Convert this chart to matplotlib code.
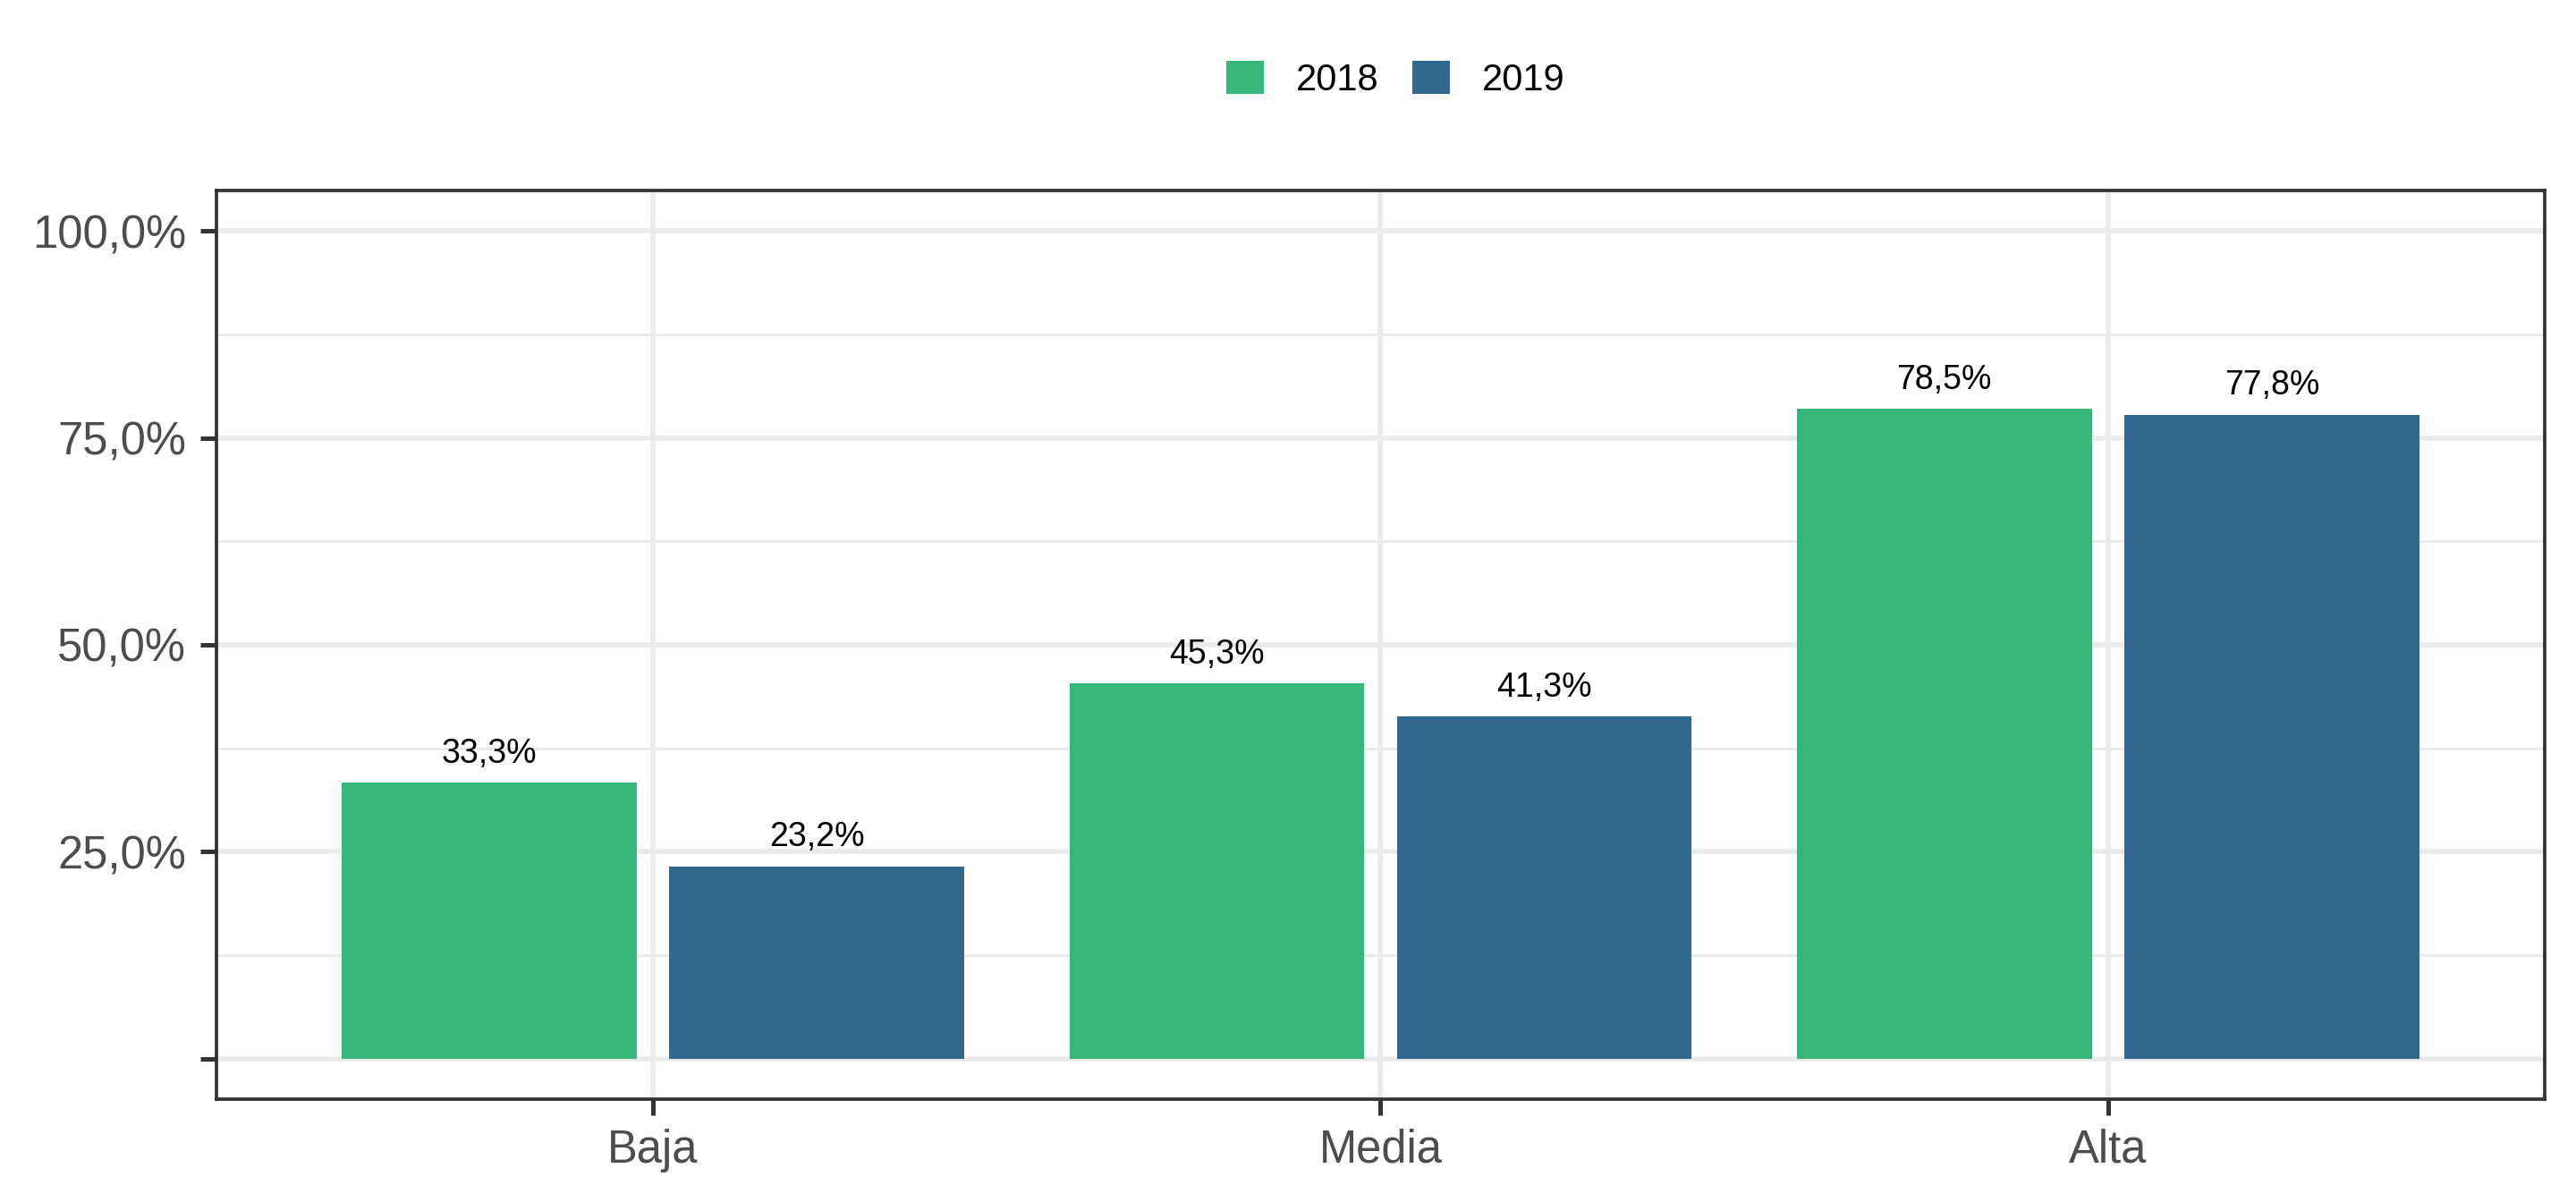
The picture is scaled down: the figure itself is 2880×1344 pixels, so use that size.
import numpy as np
import matplotlib
matplotlib.use("Agg")
import matplotlib.pyplot as plt
from matplotlib.ticker import FixedLocator, FixedFormatter

plt.rcParams['font.family'] = ['Liberation Sans', 'DejaVu Sans']

categories = ["Baja", "Media", "Alta"]
years = ["2018", "2019"]
vals_2018 = [33.3, 45.3, 78.5]
vals_2019 = [23.2, 41.3, 77.8]
colors = ["#35B779", "#31688E"]

ytick_vals = [0, 25, 50, 75, 100]
ytick_labels = ["", "25,0%", "50,0%", "75,0%", "100,0%"]

fig = plt.figure(figsize=(9.6, 4.48), dpi=300)
# panel: left 242px, right 2845px, top 213px, bottom 1229px
ax = fig.add_axes([0.0840, 0.0856, 0.9038, 0.7560])

x = np.arange(len(categories))
width = 0.405
offsets = [-0.225, 0.225]
series = [vals_2018, vals_2019]

for off, vals, col, yr in zip(offsets, series, colors, years):
    bars = ax.bar(x + off, vals, width=width, color=col, label=yr, zorder=3)
    for b, v in zip(bars, vals):
        ax.annotate(f"{v:.1f}%".replace(".", ","),
                    (b.get_x() + b.get_width() / 2, v),
                    xytext=(0, 3.5), textcoords="offset points",
                    ha="center", va="bottom", fontsize=9, color="black", zorder=4)

ax.set_xlim(-0.6, len(categories) - 0.4)
ax.set_ylim(-4.9, 104.9)

ax.set_xticks(x)
ax.set_xticklabels(categories)
ax.yaxis.set_major_locator(FixedLocator(ytick_vals))
ax.yaxis.set_major_formatter(FixedFormatter(ytick_labels))
ax.set_yticks([12.5, 37.5, 62.5, 87.5], minor=True)

ax.grid(which="major", color="#EBEBEB", linewidth=1.35, zorder=0)
ax.grid(which="minor", axis="y", color="#EBEBEB", linewidth=0.7, zorder=0)
ax.set_axisbelow(True)

for s in ax.spines.values():
    s.set_color("#333333")
    s.set_linewidth(0.9)

ax.tick_params(axis="both", which="major", length=4.3, width=1.2, color="#333333",
               labelsize=12.2, labelcolor="#4D4D4D")
ax.tick_params(axis="y", which="major", pad=3.8)
ax.tick_params(axis="x", which="major", pad=3.6)
ax.tick_params(axis="both", which="minor", length=0)

fig.legend(loc="center", bbox_to_anchor=(0.5418, 0.9338), ncol=2, frameon=False,
           handlelength=1.0, handleheight=1.0, handletextpad=0.86,
           columnspacing=0.91, fontsize=10.0)

fig.savefig("out.png", dpi=300, facecolor="white")
